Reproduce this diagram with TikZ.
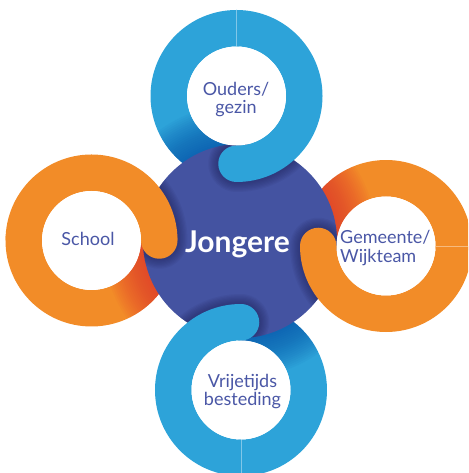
\documentclass[tikz,border=0pt]{standalone}
\usepackage{fontspec}
\setmainfont{Lato}
\definecolor{ringblue}{HTML}{2DA3D9}
\definecolor{ringorange}{HTML}{F28C28}
\definecolor{centrepurple}{HTML}{4453A1}
\definecolor{labelpurple}{HTML}{4A57A6}
\definecolor{blueshade}{HTML}{0550A8}
\definecolor{orangeshade}{HTML}{E2322A}
\definecolor{purpleshade}{HTML}{1E2258}
\newcommand\ringunder[5]{%
  \begin{scope}
    \path[clip] ([shift={(#1)}]#2:86) arc[start angle=#2,end angle=#3,radius=86]
      -- ([shift={(#1)}]#3:49.5) arc[start angle=#3,end angle=#2,radius=49.5] -- cycle;
    \fill[#4] (#1) circle (90);
    \foreach \k in {1,...,20} {\fill[#5,opacity=0.05] (P) circle ({97+2*\k});}
  \end{scope}}
\newcommand\ringshade[3]{%
  \foreach \k in {1,...,8} {\draw[line width={36.5pt+2.5pt*\k},line cap=round,purpleshade,opacity=0.075]
    ([shift={(#1)}]#2:67.75) arc[start angle=#2,end angle=#3,radius=67.75];}}
\newcommand\ringover[4]{%
  \draw[line width=36.5pt,#4] ([shift={(#1)}]#2:67.75) arc[start angle=#2,end angle=#3,radius=67.75];
  \fill[#4] ([shift={(#1)}]#3:67.75) circle (18.25);}
\tikzset{
  label text/.style={text=labelpurple,inner sep=0pt,font=\fontsize{18}{18.2}\selectfont},
  seam/.style={white,opacity=0.4,line width=0.6pt}
}
\begin{document}
\begin{tikzpicture}[x=1pt,y=1pt]
\useasboundingbox (0,0) rectangle (468,473);
\clip (0,0) rectangle (468,473);
\coordinate (P) at (240,232);
\coordinate (T) at (236.5,377);
\coordinate (L) at (91.5,232.5);
\coordinate (R) at (386,227);
\coordinate (B) at (241,83);
% halves lying under the centre circle (a little longer, hidden under the upper halves)
\ringunder{T}{87}{273}{ringblue}{blueshade}
\ringunder{R}{-3}{183}{ringorange}{orangeshade}
\ringunder{B}{-93}{93}{ringblue}{blueshade}
\ringunder{L}{177}{363}{ringorange}{orangeshade}
% centre circle
\fill[centrepurple] (P) circle (97);
\begin{scope}
  \clip (P) circle (97);
  \ringshade{T}{90}{-90}
  \ringshade{R}{0}{-180}
  \ringshade{B}{-90}{-270}
  \ringshade{L}{180}{0}
\end{scope}
% halves lying over the centre circle
\ringover{T}{90}{-90}{ringblue}
\ringover{R}{0}{-180}{ringorange}
\ringover{B}{-90}{-270}{ringblue}
\ringover{L}{180}{0}{ringorange}
% seams
\draw[seam] ([shift={(T)}]90:49.5) -- ([shift={(T)}]90:86);
\draw[seam] ([shift={(R)}]0:49.5) -- ([shift={(R)}]0:86);
\draw[seam] ([shift={(B)}]270:49.5) -- ([shift={(B)}]270:86);
% inner white circles
\fill[white] (T) circle (49.5);
\fill[white] (L) circle (49.5);
\fill[white] (R) circle (49.5);
\fill[white] (B) circle (49.5);
% texts
\node[anchor=base,text=white,inner sep=0pt,font=\fontsize{30}{32}\selectfont\bfseries] (jong) at (237.5,220.3) {Jongere};
\node[label text,align=center] (ouders) at (236,373.7) {Ouders/\\gezin};
\node[label text,anchor=base] (school) at (88,227) {School};
\node[label text,align=left,anchor=west] (gemeente) at (340,224.9) {Gemeente/\\Wijkteam};
\node[label text,align=center] (vrije) at (242.5,81.8) {Vrijetijds\\besteding};
\end{tikzpicture}
\end{document}
